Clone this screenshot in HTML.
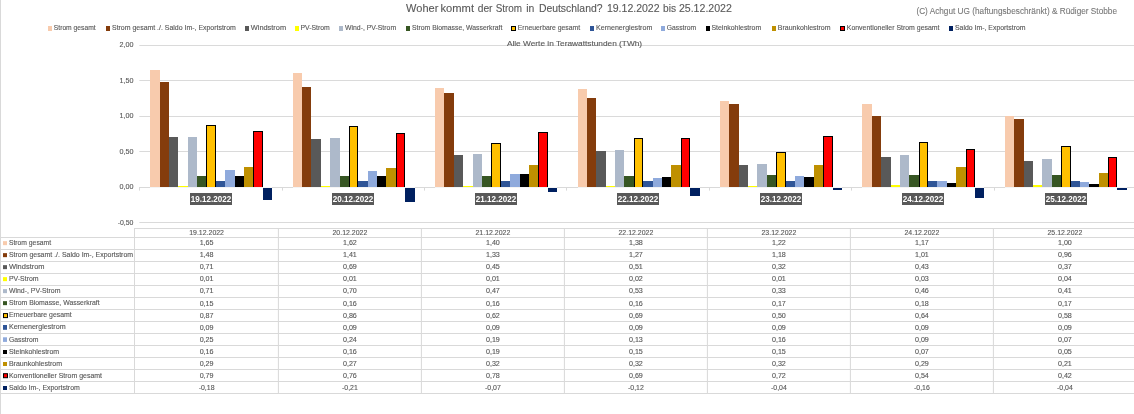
<!DOCTYPE html>
<html lang="de">
<head>
<meta charset="utf-8">
<title>Woher kommt der Strom in Deutschland? 19.12.2022 bis 25.12.2022</title>
<style>
html,body{margin:0;padding:0;background:#fff;}
body{width:1134px;height:414px;overflow:hidden;}
svg{display:block;font-family:"Liberation Sans",sans-serif;}
.t text,text.t{fill:#595959;stroke:#595959;stroke-width:0.12px;}
.s{font-size:6.8px;}
.ax{font-size:7px;}
</style>
</head>
<body>
<svg width="1134" height="414" viewBox="0 0 1134 414">
<rect x="0" y="0" width="1134" height="414" fill="#fff"/>
<rect x="0" y="0" width="1" height="414" fill="#d9d9d9"/>
<g id="grid">
<rect x="139.3" y="45" width="994.7" height="0.95" fill="#d9d9d9"/>
<rect x="139.3" y="80" width="994.7" height="0.95" fill="#d9d9d9"/>
<rect x="139.3" y="116" width="994.7" height="0.95" fill="#d9d9d9"/>
<rect x="139.3" y="151" width="994.7" height="0.95" fill="#d9d9d9"/>
<rect x="139.3" y="222" width="994.7" height="0.95" fill="#d9d9d9"/>
</g>
<g id="bars" shape-rendering="crispEdges">
<rect x="150" y="70" width="10" height="117" fill="#F8CBAD"/>
<rect x="160" y="82" width="9" height="105" fill="#843C0C"/>
<rect x="169" y="137" width="9" height="50" fill="#595959"/>
<rect x="178" y="186" width="10" height="1" fill="#FFFF00"/>
<rect x="188" y="137" width="9" height="50" fill="#ADB9CA"/>
<rect x="197" y="176" width="9" height="11" fill="#375623"/>
<rect x="206" y="125" width="10" height="62" fill="#FFC000"/>
<path d="M206.5 187V125.5H215.5V187" fill="none" stroke="#000" stroke-width="1"/>
<rect x="216" y="181" width="9" height="6" fill="#2F5597"/>
<rect x="225" y="170" width="10" height="17" fill="#8FAADC"/>
<rect x="235" y="176" width="9" height="11" fill="#000000"/>
<rect x="244" y="167" width="9" height="20" fill="#BF9000"/>
<rect x="253" y="131" width="10" height="56" fill="#FF0000"/>
<path d="M253.5 187V131.5H262.5V187" fill="none" stroke="#000" stroke-width="1"/>
<rect x="263" y="188" width="9" height="12" fill="#002060"/>
<rect x="293" y="73" width="9" height="114" fill="#F8CBAD"/>
<rect x="302" y="87" width="9" height="100" fill="#843C0C"/>
<rect x="311" y="139" width="10" height="48" fill="#595959"/>
<rect x="321" y="186" width="9" height="1" fill="#FFFF00"/>
<rect x="330" y="138" width="10" height="49" fill="#ADB9CA"/>
<rect x="340" y="176" width="9" height="11" fill="#375623"/>
<rect x="349" y="126" width="9" height="61" fill="#FFC000"/>
<path d="M349.5 187V126.5H357.5V187" fill="none" stroke="#000" stroke-width="1"/>
<rect x="358" y="181" width="10" height="6" fill="#2F5597"/>
<rect x="368" y="171" width="9" height="16" fill="#8FAADC"/>
<rect x="377" y="176" width="9" height="11" fill="#000000"/>
<rect x="386" y="168" width="10" height="19" fill="#BF9000"/>
<rect x="396" y="133" width="9" height="54" fill="#FF0000"/>
<path d="M396.5 187V133.5H404.5V187" fill="none" stroke="#000" stroke-width="1"/>
<rect x="405" y="188" width="10" height="14" fill="#002060"/>
<rect x="435" y="88" width="9" height="99" fill="#F8CBAD"/>
<rect x="444" y="93" width="10" height="94" fill="#843C0C"/>
<rect x="454" y="155" width="9" height="32" fill="#595959"/>
<rect x="463" y="186" width="10" height="1" fill="#FFFF00"/>
<rect x="473" y="154" width="9" height="33" fill="#ADB9CA"/>
<rect x="482" y="176" width="9" height="11" fill="#375623"/>
<rect x="491" y="143" width="10" height="44" fill="#FFC000"/>
<path d="M491.5 187V143.5H500.5V187" fill="none" stroke="#000" stroke-width="1"/>
<rect x="501" y="181" width="9" height="6" fill="#2F5597"/>
<rect x="510" y="174" width="10" height="13" fill="#8FAADC"/>
<rect x="520" y="174" width="9" height="13" fill="#000000"/>
<rect x="529" y="165" width="9" height="22" fill="#BF9000"/>
<rect x="538" y="132" width="10" height="55" fill="#FF0000"/>
<path d="M538.5 187V132.5H547.5V187" fill="none" stroke="#000" stroke-width="1"/>
<rect x="548" y="188" width="9" height="4" fill="#002060"/>
<rect x="578" y="89" width="9" height="98" fill="#F8CBAD"/>
<rect x="587" y="98" width="9" height="89" fill="#843C0C"/>
<rect x="596" y="151" width="10" height="36" fill="#595959"/>
<rect x="606" y="186" width="9" height="1" fill="#FFFF00"/>
<rect x="615" y="150" width="9" height="37" fill="#ADB9CA"/>
<rect x="624" y="176" width="10" height="11" fill="#375623"/>
<rect x="634" y="138" width="9" height="49" fill="#FFC000"/>
<path d="M634.5 187V138.5H642.5V187" fill="none" stroke="#000" stroke-width="1"/>
<rect x="643" y="181" width="10" height="6" fill="#2F5597"/>
<rect x="653" y="178" width="9" height="9" fill="#8FAADC"/>
<rect x="662" y="177" width="9" height="10" fill="#000000"/>
<rect x="671" y="165" width="10" height="22" fill="#BF9000"/>
<rect x="681" y="138" width="9" height="49" fill="#FF0000"/>
<path d="M681.5 187V138.5H689.5V187" fill="none" stroke="#000" stroke-width="1"/>
<rect x="690" y="188" width="10" height="8" fill="#002060"/>
<rect x="720" y="101" width="9" height="86" fill="#F8CBAD"/>
<rect x="729" y="104" width="10" height="83" fill="#843C0C"/>
<rect x="739" y="165" width="9" height="22" fill="#595959"/>
<rect x="748" y="186" width="9" height="1" fill="#FFFF00"/>
<rect x="757" y="164" width="10" height="23" fill="#ADB9CA"/>
<rect x="767" y="175" width="9" height="12" fill="#375623"/>
<rect x="776" y="152" width="10" height="35" fill="#FFC000"/>
<path d="M776.5 187V152.5H785.5V187" fill="none" stroke="#000" stroke-width="1"/>
<rect x="786" y="181" width="9" height="6" fill="#2F5597"/>
<rect x="795" y="176" width="9" height="11" fill="#8FAADC"/>
<rect x="804" y="177" width="10" height="10" fill="#000000"/>
<rect x="814" y="165" width="9" height="22" fill="#BF9000"/>
<rect x="823" y="136" width="10" height="51" fill="#FF0000"/>
<path d="M823.5 187V136.5H832.5V187" fill="none" stroke="#000" stroke-width="1"/>
<rect x="833" y="188" width="9" height="2" fill="#002060"/>
<rect x="862" y="104" width="10" height="83" fill="#F8CBAD"/>
<rect x="872" y="116" width="9" height="71" fill="#843C0C"/>
<rect x="881" y="157" width="10" height="30" fill="#595959"/>
<rect x="891" y="185" width="9" height="2" fill="#FFFF00"/>
<rect x="900" y="155" width="9" height="32" fill="#ADB9CA"/>
<rect x="909" y="175" width="10" height="12" fill="#375623"/>
<rect x="919" y="142" width="9" height="45" fill="#FFC000"/>
<path d="M919.5 187V142.5H927.5V187" fill="none" stroke="#000" stroke-width="1"/>
<rect x="928" y="181" width="9" height="6" fill="#2F5597"/>
<rect x="937" y="181" width="10" height="6" fill="#8FAADC"/>
<rect x="947" y="183" width="9" height="4" fill="#000000"/>
<rect x="956" y="167" width="10" height="20" fill="#BF9000"/>
<rect x="966" y="149" width="9" height="38" fill="#FF0000"/>
<path d="M966.5 187V149.5H974.5V187" fill="none" stroke="#000" stroke-width="1"/>
<rect x="975" y="188" width="9" height="10" fill="#002060"/>
<rect x="1005" y="116" width="9" height="71" fill="#F8CBAD"/>
<rect x="1014" y="119" width="10" height="68" fill="#843C0C"/>
<rect x="1024" y="161" width="9" height="26" fill="#595959"/>
<rect x="1033" y="185" width="9" height="2" fill="#FFFF00"/>
<rect x="1042" y="159" width="10" height="28" fill="#ADB9CA"/>
<rect x="1052" y="175" width="9" height="12" fill="#375623"/>
<rect x="1061" y="146" width="10" height="41" fill="#FFC000"/>
<path d="M1061.5 187V146.5H1070.5V187" fill="none" stroke="#000" stroke-width="1"/>
<rect x="1071" y="181" width="9" height="6" fill="#2F5597"/>
<rect x="1080" y="182" width="9" height="5" fill="#8FAADC"/>
<rect x="1089" y="184" width="10" height="3" fill="#000000"/>
<rect x="1099" y="173" width="9" height="14" fill="#BF9000"/>
<rect x="1108" y="157" width="9" height="30" fill="#FF0000"/>
<path d="M1108.5 187V157.5H1116.5V187" fill="none" stroke="#000" stroke-width="1"/>
<rect x="1117" y="188" width="10" height="2" fill="#002060"/>
</g>
<g id="axis">
<rect x="139" y="187" width="995" height="1" fill="#f4f4f4"/>
<rect x="139" y="187" width="11" height="1" fill="#d9d9d9"/>
<rect x="139" y="188" width="1" height="2.6" fill="#d9d9d9"/>
<rect x="272" y="187" width="21" height="1" fill="#d9d9d9"/>
<rect x="282" y="188" width="1" height="2.6" fill="#d9d9d9"/>
<rect x="415" y="187" width="20" height="1" fill="#d9d9d9"/>
<rect x="424" y="188" width="1" height="2.6" fill="#d9d9d9"/>
<rect x="557" y="187" width="21" height="1" fill="#d9d9d9"/>
<rect x="566" y="188" width="1" height="2.6" fill="#d9d9d9"/>
<rect x="700" y="187" width="20" height="1" fill="#d9d9d9"/>
<rect x="709" y="188" width="1" height="2.6" fill="#d9d9d9"/>
<rect x="842" y="187" width="20" height="1" fill="#d9d9d9"/>
<rect x="851" y="188" width="1" height="2.6" fill="#d9d9d9"/>
<rect x="984" y="187" width="21" height="1" fill="#d9d9d9"/>
<rect x="994" y="188" width="1" height="2.6" fill="#d9d9d9"/>
<rect x="1127" y="187" width="7" height="1" fill="#d9d9d9"/>
</g>
<g id="ylabels" class="t ax" text-anchor="end">
<text x="133.5" y="46.75" textLength="14.0" lengthAdjust="spacingAndGlyphs">2,00</text>
<text x="133.5" y="82.65" textLength="14.0" lengthAdjust="spacingAndGlyphs">1,50</text>
<text x="133.5" y="117.65" textLength="14.0" lengthAdjust="spacingAndGlyphs">1,00</text>
<text x="133.5" y="153.65" textLength="14.0" lengthAdjust="spacingAndGlyphs">0,50</text>
<text x="133.5" y="188.75" textLength="14.0" lengthAdjust="spacingAndGlyphs">0,00</text>
<text x="133.5" y="224.65" textLength="15.8" lengthAdjust="spacingAndGlyphs">-0,50</text>
</g>
<g id="catlabels" font-weight="bold" font-size="8.2px" fill="#fff" text-anchor="middle">
<rect x="190" y="193" width="42" height="12" fill="#595959"/>
<text x="211.00" y="201.9" textLength="40.4" lengthAdjust="spacingAndGlyphs">19.12.2022</text>
<rect x="332" y="193" width="42" height="12" fill="#595959"/>
<text x="353.00" y="201.9" textLength="40.4" lengthAdjust="spacingAndGlyphs">20.12.2022</text>
<rect x="475" y="193" width="42" height="12" fill="#595959"/>
<text x="496.00" y="201.9" textLength="40.4" lengthAdjust="spacingAndGlyphs">21.12.2022</text>
<rect x="617" y="193" width="42" height="12" fill="#595959"/>
<text x="638.00" y="201.9" textLength="40.4" lengthAdjust="spacingAndGlyphs">22.12.2022</text>
<rect x="760" y="193" width="42" height="12" fill="#595959"/>
<text x="781.00" y="201.9" textLength="40.4" lengthAdjust="spacingAndGlyphs">23.12.2022</text>
<rect x="902" y="193" width="42" height="12" fill="#595959"/>
<text x="923.00" y="201.9" textLength="40.4" lengthAdjust="spacingAndGlyphs">24.12.2022</text>
<rect x="1045" y="193" width="42" height="12" fill="#595959"/>
<text x="1066.00" y="201.9" textLength="40.4" lengthAdjust="spacingAndGlyphs">25.12.2022</text>
</g>
<g id="title" class="t" font-size="11.4px"><text x="406.1" y="12" textLength="32.2" lengthAdjust="spacingAndGlyphs">Woher</text><text x="440.5" y="12" textLength="33.5" lengthAdjust="spacingAndGlyphs">kommt</text><text x="477.7" y="12" textLength="14.8" lengthAdjust="spacingAndGlyphs">der</text><text x="495.7" y="12" textLength="26.4" lengthAdjust="spacingAndGlyphs">Strom</text><text x="526.2" y="12" textLength="8.1" lengthAdjust="spacingAndGlyphs">in</text><text x="538.9" y="12" textLength="63.6" lengthAdjust="spacingAndGlyphs">Deutschland?</text><text x="606.9" y="12" textLength="52.7" lengthAdjust="spacingAndGlyphs">19.12.2022</text><text x="663.0" y="12" textLength="13.0" lengthAdjust="spacingAndGlyphs">bis</text><text x="678.9" y="12" textLength="53.0" lengthAdjust="spacingAndGlyphs">25.12.2022</text></g>
<text x="916.4" y="14.4" font-size="9.2px" fill="#777" stroke="#777" stroke-width="0.1" textLength="200.6" lengthAdjust="spacingAndGlyphs">(C) Achgut UG (haftungsbeschränkt) &amp; Rüdiger Stobbe</text>
<text class="t" x="506.9" y="46.3" font-size="8px" textLength="135.2" lengthAdjust="spacingAndGlyphs">Alle Werte in Terawattstunden (TWh)</text>
<g id="legend" class="t s">
<rect x="48" y="26" width="4" height="5" fill="#F8CBAD"/>
<text x="53.8" y="29.9" textLength="41.8" lengthAdjust="spacingAndGlyphs">Strom gesamt</text>
<rect x="106" y="26" width="4" height="5" fill="#843C0C"/>
<text x="112" y="29.9" textLength="123.8" lengthAdjust="spacingAndGlyphs">Strom gesamt ./. Saldo Im-, Exportstrom</text>
<rect x="245" y="26" width="4" height="5" fill="#595959"/>
<text x="250.8" y="29.9" textLength="35.3" lengthAdjust="spacingAndGlyphs">Windstrom</text>
<rect x="295" y="26" width="4" height="5" fill="#FFFF00"/>
<text x="300.5" y="29.9" textLength="29.3" lengthAdjust="spacingAndGlyphs">PV-Strom</text>
<rect x="339" y="26" width="4" height="5" fill="#ADB9CA"/>
<text x="345" y="29.9" textLength="51.1" lengthAdjust="spacingAndGlyphs">Wind-, PV-Strom</text>
<rect x="406" y="26" width="4" height="5" fill="#375623"/>
<text x="412" y="29.9" textLength="90.3" lengthAdjust="spacingAndGlyphs">Strom Biomasse, Wasserkraft</text>
<rect x="511.5" y="26.5" width="4" height="4" fill="#FFC000" stroke="#000" stroke-width="1"/>
<text x="517.8" y="29.9" textLength="62.4" lengthAdjust="spacingAndGlyphs">Erneuerbare gesamt</text>
<rect x="590" y="26" width="4" height="5" fill="#2F5597"/>
<text x="596" y="29.9" textLength="56.3" lengthAdjust="spacingAndGlyphs">Kernenergiestrom</text>
<rect x="661" y="26" width="4" height="5" fill="#8FAADC"/>
<text x="666.8" y="29.9" textLength="29.2" lengthAdjust="spacingAndGlyphs">Gasstrom</text>
<rect x="706" y="26" width="4" height="5" fill="#000000"/>
<text x="711.4" y="29.9" textLength="49.9" lengthAdjust="spacingAndGlyphs">Steinkohlestrom</text>
<rect x="772" y="26" width="4" height="5" fill="#BF9000"/>
<text x="777.8" y="29.9" textLength="52.7" lengthAdjust="spacingAndGlyphs">Braunkohlestrom</text>
<rect x="840.5" y="26.5" width="4" height="4" fill="#FF0000" stroke="#000" stroke-width="1"/>
<text x="846.8" y="29.9" textLength="92.7" lengthAdjust="spacingAndGlyphs">Konventioneller Strom gesamt</text>
<rect x="949" y="26" width="4" height="5" fill="#002060"/>
<text x="955" y="29.9" textLength="70.5" lengthAdjust="spacingAndGlyphs">Saldo Im-, Exportstrom</text>
</g>
<g id="table">
<rect x="134" y="228" width="1000" height="1" fill="#d9d9d9"/>
<rect x="0" y="237" width="1134" height="1" fill="#d9d9d9"/>
<rect x="0" y="249" width="1134" height="1" fill="#d9d9d9"/>
<rect x="0" y="261" width="1134" height="1" fill="#d9d9d9"/>
<rect x="0" y="273" width="1134" height="1" fill="#d9d9d9"/>
<rect x="0" y="285" width="1134" height="1" fill="#d9d9d9"/>
<rect x="0" y="297" width="1134" height="1" fill="#d9d9d9"/>
<rect x="0" y="309" width="1134" height="1" fill="#d9d9d9"/>
<rect x="0" y="321" width="1134" height="1" fill="#d9d9d9"/>
<rect x="0" y="333" width="1134" height="1" fill="#d9d9d9"/>
<rect x="0" y="345" width="1134" height="1" fill="#d9d9d9"/>
<rect x="0" y="357" width="1134" height="1" fill="#d9d9d9"/>
<rect x="0" y="369" width="1134" height="1" fill="#d9d9d9"/>
<rect x="0" y="381" width="1134" height="1" fill="#d9d9d9"/>
<rect x="0" y="393" width="1134" height="1" fill="#d9d9d9"/>
<rect x="134" y="228" width="1" height="166" fill="#d9d9d9"/>
<rect x="277.9" y="228" width="1" height="166" fill="#d9d9d9"/>
<rect x="420.9" y="228" width="1" height="166" fill="#d9d9d9"/>
<rect x="563.9" y="228" width="1" height="166" fill="#d9d9d9"/>
<rect x="706.9" y="228" width="1" height="166" fill="#d9d9d9"/>
<rect x="849.9" y="228" width="1" height="166" fill="#d9d9d9"/>
<rect x="992.9" y="228" width="1" height="166" fill="#d9d9d9"/>
</g>
<g id="tabletext" class="t s">
<g text-anchor="middle">
<text x="206.6" y="234.9" textLength="34.8" lengthAdjust="spacingAndGlyphs">19.12.2022</text>
<text x="349.9" y="234.9" textLength="34.8" lengthAdjust="spacingAndGlyphs">20.12.2022</text>
<text x="492.9" y="234.9" textLength="34.8" lengthAdjust="spacingAndGlyphs">21.12.2022</text>
<text x="635.9" y="234.9" textLength="34.8" lengthAdjust="spacingAndGlyphs">22.12.2022</text>
<text x="778.9" y="234.9" textLength="34.8" lengthAdjust="spacingAndGlyphs">23.12.2022</text>
<text x="921.9" y="234.9" textLength="34.8" lengthAdjust="spacingAndGlyphs">24.12.2022</text>
<text x="1064.9" y="234.9" textLength="34.8" lengthAdjust="spacingAndGlyphs">25.12.2022</text>
</g>
<rect x="3" y="241.15" width="4" height="4" fill="#F8CBAD"/>
<text x="8.9" y="244.75" textLength="42.2" lengthAdjust="spacingAndGlyphs">Strom gesamt</text>
<g text-anchor="middle">
<text x="206.6" y="244.75" textLength="13.9" lengthAdjust="spacingAndGlyphs">1,65</text>
<text x="349.9" y="244.75" textLength="13.9" lengthAdjust="spacingAndGlyphs">1,62</text>
<text x="492.9" y="244.75" textLength="13.9" lengthAdjust="spacingAndGlyphs">1,40</text>
<text x="635.9" y="244.75" textLength="13.9" lengthAdjust="spacingAndGlyphs">1,38</text>
<text x="778.9" y="244.75" textLength="13.9" lengthAdjust="spacingAndGlyphs">1,22</text>
<text x="921.9" y="244.75" textLength="13.9" lengthAdjust="spacingAndGlyphs">1,17</text>
<text x="1064.9" y="244.75" textLength="13.9" lengthAdjust="spacingAndGlyphs">1,00</text>
</g>
<rect x="3" y="253.15" width="4" height="4" fill="#843C0C"/>
<text x="8.9" y="256.75" textLength="124.2" lengthAdjust="spacingAndGlyphs">Strom gesamt ./. Saldo Im-, Exportstrom</text>
<g text-anchor="middle">
<text x="206.6" y="256.75" textLength="13.9" lengthAdjust="spacingAndGlyphs">1,48</text>
<text x="349.9" y="256.75" textLength="13.9" lengthAdjust="spacingAndGlyphs">1,41</text>
<text x="492.9" y="256.75" textLength="13.9" lengthAdjust="spacingAndGlyphs">1,33</text>
<text x="635.9" y="256.75" textLength="13.9" lengthAdjust="spacingAndGlyphs">1,27</text>
<text x="778.9" y="256.75" textLength="13.9" lengthAdjust="spacingAndGlyphs">1,18</text>
<text x="921.9" y="256.75" textLength="13.9" lengthAdjust="spacingAndGlyphs">1,01</text>
<text x="1064.9" y="256.75" textLength="13.9" lengthAdjust="spacingAndGlyphs">0,96</text>
</g>
<rect x="3" y="265.15" width="4" height="4" fill="#595959"/>
<text x="8.9" y="268.75" textLength="35.7" lengthAdjust="spacingAndGlyphs">Windstrom</text>
<g text-anchor="middle">
<text x="206.6" y="268.75" textLength="13.9" lengthAdjust="spacingAndGlyphs">0,71</text>
<text x="349.9" y="268.75" textLength="13.9" lengthAdjust="spacingAndGlyphs">0,69</text>
<text x="492.9" y="268.75" textLength="13.9" lengthAdjust="spacingAndGlyphs">0,45</text>
<text x="635.9" y="268.75" textLength="13.9" lengthAdjust="spacingAndGlyphs">0,51</text>
<text x="778.9" y="268.75" textLength="13.9" lengthAdjust="spacingAndGlyphs">0,32</text>
<text x="921.9" y="268.75" textLength="13.9" lengthAdjust="spacingAndGlyphs">0,43</text>
<text x="1064.9" y="268.75" textLength="13.9" lengthAdjust="spacingAndGlyphs">0,37</text>
</g>
<rect x="3" y="277.15" width="4" height="4" fill="#FFFF00"/>
<text x="8.9" y="280.75" textLength="29.7" lengthAdjust="spacingAndGlyphs">PV-Strom</text>
<g text-anchor="middle">
<text x="206.6" y="280.75" textLength="13.9" lengthAdjust="spacingAndGlyphs">0,01</text>
<text x="349.9" y="280.75" textLength="13.9" lengthAdjust="spacingAndGlyphs">0,01</text>
<text x="492.9" y="280.75" textLength="13.9" lengthAdjust="spacingAndGlyphs">0,01</text>
<text x="635.9" y="280.75" textLength="13.9" lengthAdjust="spacingAndGlyphs">0,02</text>
<text x="778.9" y="280.75" textLength="13.9" lengthAdjust="spacingAndGlyphs">0,01</text>
<text x="921.9" y="280.75" textLength="13.9" lengthAdjust="spacingAndGlyphs">0,03</text>
<text x="1064.9" y="280.75" textLength="13.9" lengthAdjust="spacingAndGlyphs">0,04</text>
</g>
<rect x="3" y="289.15" width="4" height="4" fill="#ADB9CA"/>
<text x="8.9" y="292.75" textLength="51.5" lengthAdjust="spacingAndGlyphs">Wind-, PV-Strom</text>
<g text-anchor="middle">
<text x="206.6" y="292.75" textLength="13.9" lengthAdjust="spacingAndGlyphs">0,71</text>
<text x="349.9" y="292.75" textLength="13.9" lengthAdjust="spacingAndGlyphs">0,70</text>
<text x="492.9" y="292.75" textLength="13.9" lengthAdjust="spacingAndGlyphs">0,47</text>
<text x="635.9" y="292.75" textLength="13.9" lengthAdjust="spacingAndGlyphs">0,53</text>
<text x="778.9" y="292.75" textLength="13.9" lengthAdjust="spacingAndGlyphs">0,33</text>
<text x="921.9" y="292.75" textLength="13.9" lengthAdjust="spacingAndGlyphs">0,46</text>
<text x="1064.9" y="292.75" textLength="13.9" lengthAdjust="spacingAndGlyphs">0,41</text>
</g>
<rect x="3" y="301.15" width="4" height="4" fill="#375623"/>
<text x="8.9" y="304.75" textLength="90.7" lengthAdjust="spacingAndGlyphs">Strom Biomasse, Wasserkraft</text>
<g text-anchor="middle">
<text x="206.6" y="305.75" textLength="13.9" lengthAdjust="spacingAndGlyphs">0,15</text>
<text x="349.9" y="305.75" textLength="13.9" lengthAdjust="spacingAndGlyphs">0,16</text>
<text x="492.9" y="305.75" textLength="13.9" lengthAdjust="spacingAndGlyphs">0,16</text>
<text x="635.9" y="305.75" textLength="13.9" lengthAdjust="spacingAndGlyphs">0,16</text>
<text x="778.9" y="305.75" textLength="13.9" lengthAdjust="spacingAndGlyphs">0,17</text>
<text x="921.9" y="305.75" textLength="13.9" lengthAdjust="spacingAndGlyphs">0,18</text>
<text x="1064.9" y="305.75" textLength="13.9" lengthAdjust="spacingAndGlyphs">0,17</text>
</g>
<rect x="3.5" y="313.60" width="4" height="4" fill="#FFC000" stroke="#000" stroke-width="1"/>
<text x="8.9" y="316.75" textLength="62.8" lengthAdjust="spacingAndGlyphs">Erneuerbare gesamt</text>
<g text-anchor="middle">
<text x="206.6" y="317.75" textLength="13.9" lengthAdjust="spacingAndGlyphs">0,87</text>
<text x="349.9" y="317.75" textLength="13.9" lengthAdjust="spacingAndGlyphs">0,86</text>
<text x="492.9" y="317.75" textLength="13.9" lengthAdjust="spacingAndGlyphs">0,62</text>
<text x="635.9" y="317.75" textLength="13.9" lengthAdjust="spacingAndGlyphs">0,69</text>
<text x="778.9" y="317.75" textLength="13.9" lengthAdjust="spacingAndGlyphs">0,50</text>
<text x="921.9" y="317.75" textLength="13.9" lengthAdjust="spacingAndGlyphs">0,64</text>
<text x="1064.9" y="317.75" textLength="13.9" lengthAdjust="spacingAndGlyphs">0,58</text>
</g>
<rect x="3" y="325.00" width="4" height="4.8" fill="#2F5597"/>
<text x="8.9" y="328.75" textLength="56.7" lengthAdjust="spacingAndGlyphs">Kernenergiestrom</text>
<g text-anchor="middle">
<text x="206.6" y="329.75" textLength="13.9" lengthAdjust="spacingAndGlyphs">0,09</text>
<text x="349.9" y="329.75" textLength="13.9" lengthAdjust="spacingAndGlyphs">0,09</text>
<text x="492.9" y="329.75" textLength="13.9" lengthAdjust="spacingAndGlyphs">0,09</text>
<text x="635.9" y="329.75" textLength="13.9" lengthAdjust="spacingAndGlyphs">0,09</text>
<text x="778.9" y="329.75" textLength="13.9" lengthAdjust="spacingAndGlyphs">0,09</text>
<text x="921.9" y="329.75" textLength="13.9" lengthAdjust="spacingAndGlyphs">0,09</text>
<text x="1064.9" y="329.75" textLength="13.9" lengthAdjust="spacingAndGlyphs">0,09</text>
</g>
<rect x="3" y="337.30" width="4" height="4.6" fill="#8FAADC"/>
<text x="8.9" y="341.75" textLength="29.6" lengthAdjust="spacingAndGlyphs">Gasstrom</text>
<g text-anchor="middle">
<text x="206.6" y="341.75" textLength="13.9" lengthAdjust="spacingAndGlyphs">0,25</text>
<text x="349.9" y="341.75" textLength="13.9" lengthAdjust="spacingAndGlyphs">0,24</text>
<text x="492.9" y="341.75" textLength="13.9" lengthAdjust="spacingAndGlyphs">0,19</text>
<text x="635.9" y="341.75" textLength="13.9" lengthAdjust="spacingAndGlyphs">0,13</text>
<text x="778.9" y="341.75" textLength="13.9" lengthAdjust="spacingAndGlyphs">0,16</text>
<text x="921.9" y="341.75" textLength="13.9" lengthAdjust="spacingAndGlyphs">0,09</text>
<text x="1064.9" y="341.75" textLength="13.9" lengthAdjust="spacingAndGlyphs">0,07</text>
</g>
<rect x="3" y="350.00" width="4" height="4" fill="#000000"/>
<text x="8.9" y="353.75" textLength="50.3" lengthAdjust="spacingAndGlyphs">Steinkohlestrom</text>
<g text-anchor="middle">
<text x="206.6" y="353.75" textLength="13.9" lengthAdjust="spacingAndGlyphs">0,16</text>
<text x="349.9" y="353.75" textLength="13.9" lengthAdjust="spacingAndGlyphs">0,16</text>
<text x="492.9" y="353.75" textLength="13.9" lengthAdjust="spacingAndGlyphs">0,19</text>
<text x="635.9" y="353.75" textLength="13.9" lengthAdjust="spacingAndGlyphs">0,15</text>
<text x="778.9" y="353.75" textLength="13.9" lengthAdjust="spacingAndGlyphs">0,15</text>
<text x="921.9" y="353.75" textLength="13.9" lengthAdjust="spacingAndGlyphs">0,07</text>
<text x="1064.9" y="353.75" textLength="13.9" lengthAdjust="spacingAndGlyphs">0,05</text>
</g>
<rect x="3" y="362.00" width="4" height="4" fill="#BF9000"/>
<text x="8.9" y="365.75" textLength="53.1" lengthAdjust="spacingAndGlyphs">Braunkohlestrom</text>
<g text-anchor="middle">
<text x="206.6" y="365.75" textLength="13.9" lengthAdjust="spacingAndGlyphs">0,29</text>
<text x="349.9" y="365.75" textLength="13.9" lengthAdjust="spacingAndGlyphs">0,27</text>
<text x="492.9" y="365.75" textLength="13.9" lengthAdjust="spacingAndGlyphs">0,32</text>
<text x="635.9" y="365.75" textLength="13.9" lengthAdjust="spacingAndGlyphs">0,32</text>
<text x="778.9" y="365.75" textLength="13.9" lengthAdjust="spacingAndGlyphs">0,32</text>
<text x="921.9" y="365.75" textLength="13.9" lengthAdjust="spacingAndGlyphs">0,29</text>
<text x="1064.9" y="365.75" textLength="13.9" lengthAdjust="spacingAndGlyphs">0,21</text>
</g>
<rect x="3.5" y="373.70" width="4" height="4" fill="#FF0000" stroke="#000" stroke-width="1"/>
<text x="8.9" y="377.75" textLength="93.1" lengthAdjust="spacingAndGlyphs">Konventioneller Strom gesamt</text>
<g text-anchor="middle">
<text x="206.6" y="377.75" textLength="13.9" lengthAdjust="spacingAndGlyphs">0,79</text>
<text x="349.9" y="377.75" textLength="13.9" lengthAdjust="spacingAndGlyphs">0,76</text>
<text x="492.9" y="377.75" textLength="13.9" lengthAdjust="spacingAndGlyphs">0,78</text>
<text x="635.9" y="377.75" textLength="13.9" lengthAdjust="spacingAndGlyphs">0,69</text>
<text x="778.9" y="377.75" textLength="13.9" lengthAdjust="spacingAndGlyphs">0,72</text>
<text x="921.9" y="377.75" textLength="13.9" lengthAdjust="spacingAndGlyphs">0,54</text>
<text x="1064.9" y="377.75" textLength="13.9" lengthAdjust="spacingAndGlyphs">0,42</text>
</g>
<rect x="3" y="386.00" width="4" height="4" fill="#002060"/>
<text x="8.9" y="389.75" textLength="70.9" lengthAdjust="spacingAndGlyphs">Saldo Im-, Exportstrom</text>
<g text-anchor="middle">
<text x="206.6" y="389.75" textLength="15.8" lengthAdjust="spacingAndGlyphs">-0,18</text>
<text x="349.9" y="389.75" textLength="15.8" lengthAdjust="spacingAndGlyphs">-0,21</text>
<text x="492.9" y="389.75" textLength="15.8" lengthAdjust="spacingAndGlyphs">-0,07</text>
<text x="635.9" y="389.75" textLength="15.8" lengthAdjust="spacingAndGlyphs">-0,12</text>
<text x="778.9" y="389.75" textLength="15.8" lengthAdjust="spacingAndGlyphs">-0,04</text>
<text x="921.9" y="389.75" textLength="15.8" lengthAdjust="spacingAndGlyphs">-0,16</text>
<text x="1064.9" y="389.75" textLength="15.8" lengthAdjust="spacingAndGlyphs">-0,04</text>
</g>
</g>
</svg>
</body>
</html>
